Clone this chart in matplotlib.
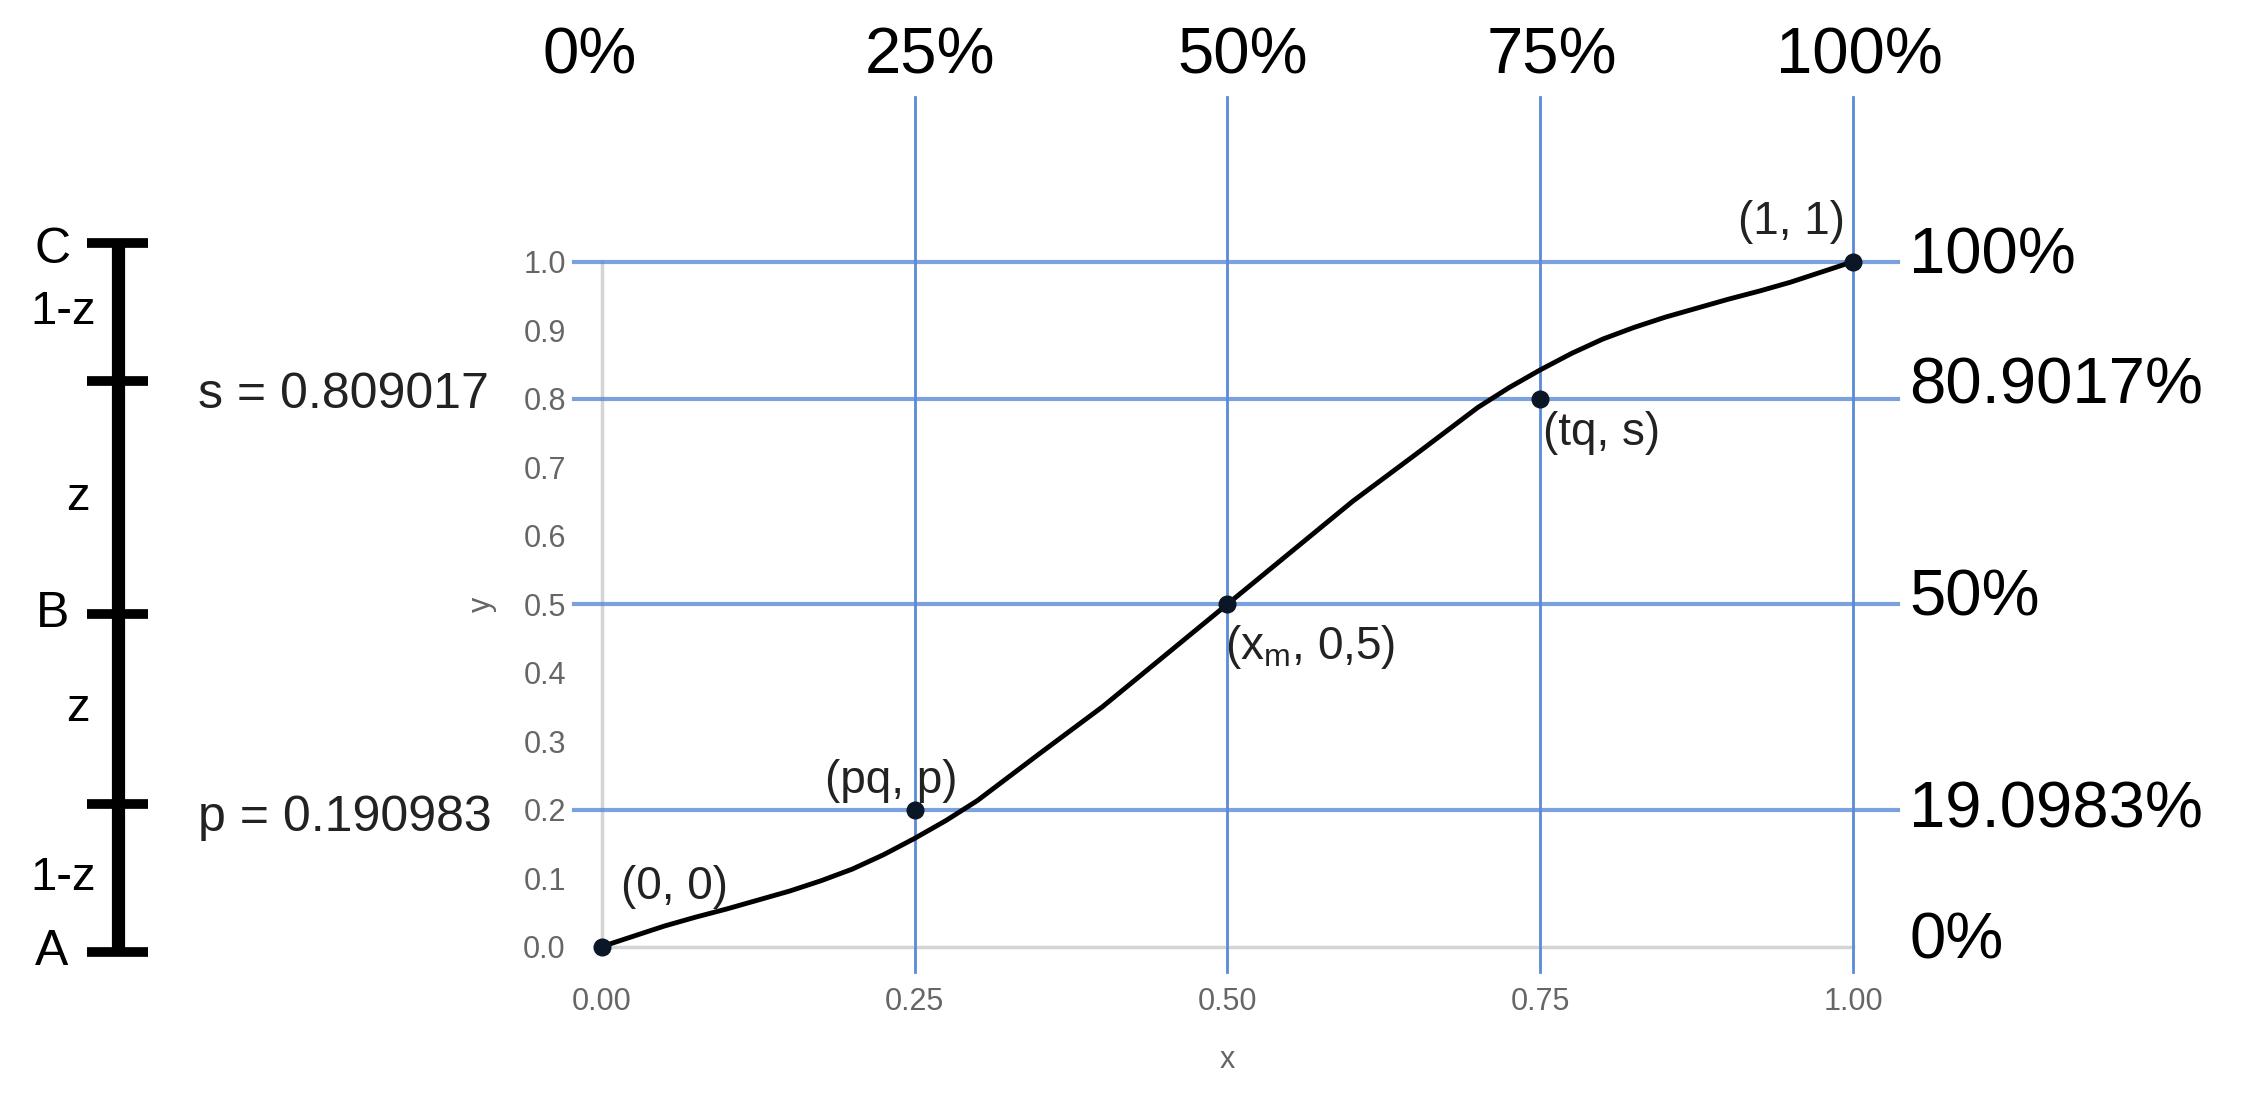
import numpy as np
import matplotlib
matplotlib.use("Agg")
import matplotlib.pyplot as plt

plt.rcParams['font.family'] = ['Liberation Sans', 'DejaVu Sans']
plt.rcParams['mathtext.fontset'] = 'custom'
plt.rcParams['mathtext.rm'] = 'Liberation Sans'

# curva
curva_x = [0.0, 0.025, 0.05, 0.075, 0.10, 0.125, 0.15, 0.175, 0.20, 0.225, 0.25,
           0.275, 0.30, 0.35, 0.40, 0.45, 0.50, 0.55, 0.60, 0.65, 0.70, 0.725,
           0.75, 0.775, 0.80, 0.825, 0.85, 0.875, 0.90, 0.925, 0.95, 0.975, 1.0]
curva_y = [0.0, 0.015, 0.030, 0.043, 0.055, 0.068, 0.081, 0.096, 0.113, 0.134, 0.158,
           0.184, 0.213, 0.282, 0.350, 0.425, 0.50, 0.575, 0.650, 0.718, 0.787, 0.816,
           0.842, 0.866, 0.887, 0.904, 0.919, 0.932, 0.945, 0.957, 0.970, 0.985, 1.0]

# puntos marcados
puntos_x = [0.0, 0.25, 0.5, 0.75, 1.0]
puntos_y = [0.0, 0.2, 0.5, 0.8, 1.0]
puntos_txt = ['(0, 0)', '(pq, p)', r'(x$_\mathrm{m}$, 0,5)', '(tq, s)', '(1, 1)']
puntos_pos = [(0.058, 0.087), (0.231, 0.242), (0.566, 0.438), (0.799, 0.75), (0.951, 1.058)]

# rejilla azul
lineas_h = [0.2, 0.5, 0.8, 1.0]
lineas_v = [0.25, 0.5, 0.75, 1.0]

# porcentajes arriba y a la derecha
arriba_val = [0.0, 0.25, 0.5, 0.75, 1.0]
arriba_txt = ['0%', '25%', '50%', '75%', '100%']
arriba_dx = [-0.01, 0.012, 0.012, 0.009, 0.005]
derecha_val = [1.0, 0.809017, 0.5, 0.190983, 0.0]
derecha_txt = ['100%', '80.9017%', '50%', '19.0983%', '0%']

# regla A-B-C
regla_pos = [0.0, 0.209, 0.477, 0.805, 1.0]
regla_txt = ['A', '', 'B', '', 'C']
tramos_txt = ['1-z', 'z', 'z', '1-z']
regla_val_txt = {1: 'p = 0.190983', 3: 's = 0.809017'}

azul = '#5a8ad8'
gris = '#d4d4d4'

fig = plt.figure(figsize=(22.42, 11.05), dpi=100)
ax = fig.add_axes([0.2685, 0.1434, 0.558, 0.6198])
ax.set_xlim(0, 1)
ax.set_ylim(0, 1)
for s in ax.spines.values():
    s.set_visible(False)

# ejes grises
ax.plot([0, 0], [0, 1], color=gris, lw=2.5, zorder=1, clip_on=False)
ax.plot([0, 1], [0, 0], color=gris, lw=2.5, zorder=1, clip_on=False)

for yv in lineas_h:
    ax.plot([-0.022, 1.036], [yv, yv], color=azul, lw=3.0, alpha=0.8, zorder=2, clip_on=False)
for xv in lineas_v:
    ax.plot([xv, xv], [-0.037, 1.24], color=azul, lw=2.0, zorder=2, clip_on=False)

ax.plot(curva_x, curva_y, color='black', lw=3.5, zorder=3, clip_on=False,
        solid_joinstyle='round', solid_capstyle='round')
ax.plot(puntos_x, puntos_y, 'o', color='#0b1626', markersize=12, zorder=4, clip_on=False)

for t, (px, py) in zip(puntos_txt, puntos_pos):
    ax.text(px, py, t, fontsize=33, color='#222222', ha='center', va='center')

for v, dx, t in zip(arriba_val, arriba_dx, arriba_txt):
    ax.text(v + dx, 1.30, t, fontsize=47, color='black', ha='center', va='center')
for v, t in zip(derecha_val, derecha_txt):
    ax.text(1.045, v + 0.008, t, fontsize=47, color='black', ha='left', va='center')

ax.set_xticks([0, 0.25, 0.5, 0.75, 1.0])
ax.set_xticklabels(['0.00', '0.25', '0.50', '0.75', '1.00'])
ax.set_yticks(np.round(np.arange(0, 1.01, 0.1), 1))
ax.set_yticklabels(['%.1f' % v for v in np.arange(0, 1.01, 0.1)])
ax.tick_params(axis='both', length=0, labelsize=22, labelcolor='#666666')
ax.tick_params(axis='x', pad=29)
ax.tick_params(axis='y', pad=26)
ax.set_xlabel('x', fontsize=22, color='#666666', labelpad=20)
ax.set_ylabel('y', fontsize=22, color='#666666', labelpad=19)

# regla a la izquierda
axr = fig.add_axes([0.0, 0.1385, 0.2498, 0.6416])
axr.set_xlim(0, 1)
axr.set_ylim(0, 1)
axr.axis('off')
bx = 0.21
axr.plot([bx, bx], [regla_pos[0], regla_pos[-1]], color='black', lw=9.5, clip_on=False,
         solid_capstyle='butt')
for i, (yp, t) in enumerate(zip(regla_pos, regla_txt)):
    axr.plot([bx - 0.054, bx + 0.054], [yp, yp], color='black', lw=7, clip_on=False,
             solid_capstyle='butt')
    if t:
        dy = -0.01 if t == 'C' else 0.0
        axr.text(0.093, yp + dy, t, fontsize=36, ha='center', va='center')
    if i in regla_val_txt:
        axr.text(0.354, yp - 0.02, regla_val_txt[i], fontsize=36, color='#222222',
                 ha='left', va='center')
for i, t in enumerate(tramos_txt):
    ym = (regla_pos[i] + regla_pos[i + 1]) / 2
    xm = 0.113 if t == '1-z' else 0.14
    axr.text(xm, ym, t, fontsize=34, ha='center', va='center')

fig.savefig('out.png', dpi=100)
